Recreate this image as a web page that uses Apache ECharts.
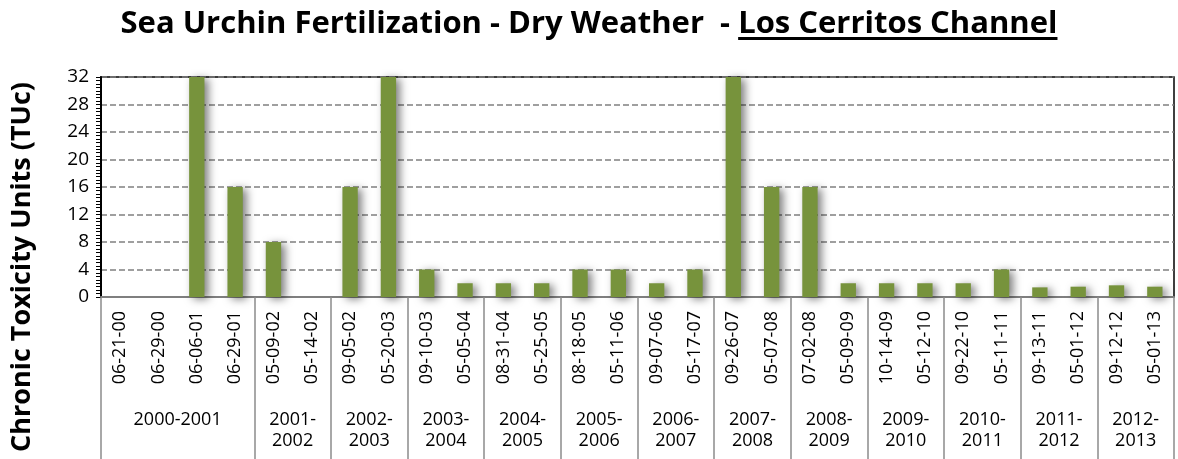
<!DOCTYPE html>
<html>
<head>
<meta charset="utf-8">
<script src="https://cdn.jsdelivr.net/npm/echarts@6/dist/echarts.min.js"></script>
<style>
  html, body { margin: 0; padding: 0; background: #fff; }
  #chart { width: 1178px; height: 459px; }
</style>
</head>
<body>
<div id="chart"></div>
<script>
// sampling dates (x axis, first level)
const dates = [
  '06-21-00', '06-29-00', '06-06-01', '06-29-01', '05-09-02', '05-14-02',
  '09-05-02', '05-20-03', '09-10-03', '05-05-04', '08-31-04', '05-25-05',
  '08-18-05', '05-11-06', '09-07-06', '05-17-07', '09-26-07', '05-07-08',
  '07-02-08', '05-09-09', '10-14-09', '05-12-10', '09-22-10', '05-11-11',
  '09-13-11', '05-01-12', '09-12-12', '05-01-13'
];
// chronic toxicity units per date
const tuc = [
  0, 0, 32, 16, 8, 0,
  16, 32, 4, 2, 2, 2,
  4, 4, 2, 4, 32, 16,
  16, 2, 2, 2, 2, 4,
  1.4, 1.5, 1.7, 1.5
];
// monitoring seasons (x axis, second level) and how many dates each holds
const seasons = [
  '2000-2001', '2001-2002', '2002-2003', '2003-2004', '2004-2005', '2005-2006',
  '2006-2007', '2007-2008', '2008-2009', '2009-2010', '2010-2011', '2011-2012',
  '2012-2013'
];
const seasonSizes = [4, 2, 2, 2, 2, 2, 2, 2, 2, 2, 2, 2, 2];
const yTicks = { min: 0, max: 32, step: 4 };

// season boundaries and centres in category units
const bounds = [0];
seasonSizes.forEach(n => bounds.push(bounds[bounds.length - 1] + n));
const centers = seasonSizes.map((n, i) => bounds[i] + n / 2);

const FONT = '"Open Sans", sans-serif';
const gridBox = { left: 101, right: 4, top: 77, bottom: 162 };

const chart = echarts.init(document.getElementById('chart'));
chart.setOption({
  backgroundColor: '#fff',
  animation: false,
  title: {
    text: 'Sea Urchin Fertilization - Dry Weather  - {u|Los Cerritos Channel}',
    left: 'center',
    top: 4,
    textStyle: {
      fontFamily: FONT, fontSize: 31, fontWeight: 'bold', color: '#000',
      rich: {
        u: {
          fontFamily: FONT, fontSize: 31, fontWeight: 'bold', color: '#000',
          backgroundColor: new echarts.graphic.LinearGradient(0, 0, 0, 1, [
            { offset: 0, color: 'rgba(0,0,0,0)' },
            { offset: 0.9, color: 'rgba(0,0,0,0)' },
            { offset: 0.9, color: '#000' },
            { offset: 1, color: '#000' }
          ])
        }
      }
    }
  },
  graphic: [{
    type: 'text',
    x: 22,
    y: 267,
    rotation: Math.PI / 2,
    style: {
      text: 'Chronic Toxicity Units (TUc)',
      fontFamily: FONT, fontSize: 27, fontWeight: 'bold', fill: '#000',
      align: 'center', verticalAlign: 'middle'
    }
  }],
  grid: [
    Object.assign({ show: true, borderColor: '#000', borderWidth: 1.5 }, gridBox),
    Object.assign({ show: false }, gridBox)
  ],
  xAxis: [{
    type: 'category',
    gridIndex: 0,
    data: dates,
    axisLine: { lineStyle: { color: '#7f7f7f', width: 2 } },
    axisTick: { show: false },
    axisLabel: {
      interval: 0, rotate: 90, margin: 14,
      fontFamily: FONT, fontSize: 18, color: '#000'
    }
  }, {
    type: 'value',
    gridIndex: 1,
    min: 0,
    max: dates.length,
    axisLine: { show: false },
    splitLine: { show: false },
    axisTick: {
      show: true, customValues: bounds, length: 162,
      lineStyle: { color: '#8c8c8c', width: 1.5 }
    },
    axisLabel: {
      customValues: centers,
      margin: 112,
      verticalAlign: 'top',
      lineHeight: 21,
      fontFamily: FONT, fontSize: 18, color: '#000',
      formatter: v => {
        const i = centers.indexOf(v);
        if (i < 0) return '';
        return seasonSizes[i] > 2 ? seasons[i] : seasons[i].replace('-', '-\n');
      }
    }
  }],
  yAxis: [{
    type: 'value',
    gridIndex: 0,
    min: yTicks.min,
    max: yTicks.max,
    interval: yTicks.step,
    axisLine: { show: true, lineStyle: { color: '#000', width: 2 } },
    axisTick: { show: true, length: 5, lineStyle: { color: '#000' } },
    minorTick: { show: true, splitNumber: 8, length: 5, lineStyle: { color: '#000' } },
    axisLabel: { margin: 12, fontFamily: FONT, fontSize: 19, color: '#000' },
    splitLine: { lineStyle: { color: '#808080', width: 1.5, type: [6, 3] } }
  }, {
    type: 'value',
    gridIndex: 1,
    show: false
  }],
  series: [{
    type: 'bar',
    xAxisIndex: 0,
    yAxisIndex: 0,
    data: tuc,
    barWidth: '40%',
    itemStyle: {
      color: '#77933c',
      shadowColor: 'rgba(0,0,0,0.5)',
      shadowBlur: 8,
      shadowOffsetX: 4,
      shadowOffsetY: 2
    }
  }]
});
</script>
</body>
</html>
